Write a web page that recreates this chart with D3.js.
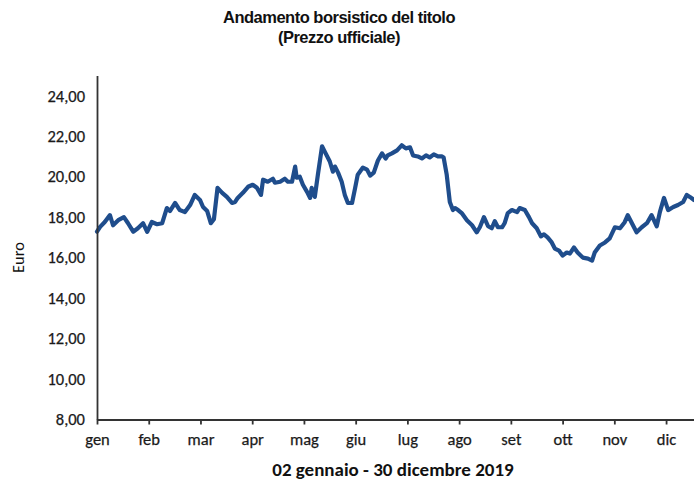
<!DOCTYPE html>
<html>
<head>
<meta charset="utf-8">
<script src="https://cdn.jsdelivr.net/npm/d3@7/dist/d3.min.js"></script>
<style>
  body { margin: 0; background: #fff; }
  svg { display: block; }
  .tick text { font-family: Carlito, "Liberation Sans Narrow", "DejaVu Sans Condensed", sans-serif; font-size: 16.5px; fill: #1a1a1a; stroke: #1a1a1a; stroke-width: 0.25px; }
  .title { font-family: "Liberation Sans", Arial, sans-serif; font-weight: bold; font-size: 16.5px; letter-spacing: -0.5px; fill: #111; }
  .axis-label { font-family: Carlito, "Liberation Sans Narrow", "DejaVu Sans Condensed", sans-serif; font-size: 16.5px; fill: #111; }
</style>
</head>
<body>
<svg id="chart" width="694" height="484"></svg>
<script>
var months = ["gen", "feb", "mar", "apr", "mag", "giu", "lug", "ago", "set", "ott", "nov", "dic"];
var yTicks = [8, 10, 12, 14, 16, 18, 20, 22, 24];

// position along the year in month units (0 = 2 gennaio, 11.54 = 30 dicembre)
var monthPos = [
    0.00, 0.06, 0.15, 0.25, 0.31, 0.41, 0.52, 0.60, 0.70, 0.79, 0.89, 0.97,
    1.06, 1.16, 1.26, 1.29, 1.35, 1.41, 1.51, 1.60, 1.70, 1.80, 1.89, 1.99,
    2.05, 2.13, 2.20, 2.26, 2.33, 2.42, 2.51, 2.61, 2.67, 2.72, 2.82, 2.92,
    3.01, 3.09, 3.17, 3.21, 3.30, 3.40, 3.44, 3.54, 3.63, 3.69, 3.77, 3.83,
    3.86, 3.92, 3.98, 4.06, 4.12, 4.15, 4.21, 4.27, 4.35, 4.41, 4.50, 4.56,
    4.60, 4.66, 4.73, 4.79, 4.85, 4.93, 4.99, 5.04, 5.14, 5.22, 5.28, 5.35,
    5.43, 5.51, 5.58, 5.62, 5.70, 5.80, 5.89, 5.97, 6.05, 6.11, 6.20, 6.28,
    6.36, 6.43, 6.51, 6.59, 6.67, 6.70, 6.76, 6.82, 6.88, 6.92, 6.98, 7.05,
    7.15, 7.25, 7.34, 7.40, 7.48, 7.56, 7.63, 7.69, 7.75, 7.83, 7.88, 7.94,
    8.02, 8.12, 8.17, 8.27, 8.35, 8.41, 8.50, 8.58, 8.64, 8.71, 8.79, 8.85,
    8.93, 9.00, 9.08, 9.14, 9.22, 9.29, 9.39, 9.49, 9.57, 9.62, 9.72, 9.82,
    9.91, 10.01, 10.11, 10.20, 10.26, 10.34, 10.43, 10.53, 10.63, 10.72, 10.82, 10.88,
    10.96, 11.04, 11.14, 11.23, 11.33, 11.40, 11.46, 11.54
];

// prezzo ufficiale, euro
var prices = [
    17.28, 17.52, 17.76, 18.10, 17.60, 17.85, 18.00, 17.70, 17.28, 17.45, 17.70, 17.27,
    17.76, 17.65, 17.70, 17.95, 18.45, 18.30, 18.70, 18.35, 18.25, 18.60, 19.10, 18.85,
    18.50, 18.30, 17.70, 17.90, 19.45, 19.20, 19.00, 18.70, 18.75, 18.95, 19.20, 19.50,
    19.60, 19.45, 19.10, 19.85, 19.75, 19.90, 19.70, 19.75, 19.90, 19.75, 19.75, 20.50,
    19.95, 20.00, 19.60, 19.25, 18.95, 19.45, 19.00, 20.10, 21.50, 21.20, 20.75, 20.25,
    20.50, 20.20, 19.75, 19.10, 18.70, 18.70, 19.45, 20.10, 20.45, 20.35, 20.05, 20.20,
    20.80, 21.15, 20.90, 21.05, 21.15, 21.30, 21.55, 21.40, 21.45, 21.05, 21.00, 20.90,
    21.05, 20.95, 21.10, 21.00, 21.00, 20.95, 20.10, 18.75, 18.35, 18.45, 18.35, 18.20,
    17.85, 17.60, 17.25, 17.50, 18.00, 17.55, 17.45, 17.80, 17.50, 17.50, 17.70, 18.20,
    18.35, 18.25, 18.45, 18.35, 18.00, 17.70, 17.45, 17.05, 17.15, 17.00, 16.75, 16.45,
    16.35, 16.10, 16.25, 16.20, 16.50, 16.25, 16.00, 15.95, 15.85, 16.25, 16.60, 16.75,
    16.95, 17.50, 17.45, 17.75, 18.10, 17.70, 17.25, 17.50, 17.70, 18.10, 17.55, 18.25,
    18.95, 18.35, 18.50, 18.60, 18.75, 19.10, 19.00, 18.85
];

var svg = d3.select('#chart');
var plotLeft = 97, plotRight = 694, plotTop = 75.5, plotBottom = 419.5;

var x = d3.scaleLinear()
    .domain([0, monthPos[monthPos.length - 1]])
    .range([plotLeft, plotRight]);

var y = d3.scaleLinear()
    .domain([8, 25])
    .range([plotBottom, plotTop]);

var comma = function(d) { return d3.format('.2f')(d).replace('.', ','); };

// title
svg.append('text').attr('class', 'title')
    .attr('x', 339).attr('y', 23).attr('text-anchor', 'middle')
    .text('Andamento borsistico del titolo');
svg.append('text').attr('class', 'title')
    .attr('x', 339).attr('y', 43).attr('text-anchor', 'middle')
    .text('(Prezzo ufficiale)');

// line first, axes drawn on top
var line = d3.line()
    .x(function(d, i) { return x(monthPos[i]); })
    .y(function(d) { return y(d); });

svg.append('path')
    .datum(prices)
    .attr('d', line)
    .attr('fill', 'none')
    .attr('stroke', '#1f4d8c')
    .attr('stroke-width', 4.2)
    .attr('stroke-linejoin', 'round')
    .attr('stroke-linecap', 'round');

var yAxis = svg.append('g')
    .attr('transform', 'translate(' + plotLeft + ',0)')
    .call(d3.axisLeft(y).tickValues(yTicks).tickSize(0).tickPadding(12).tickFormat(comma));
yAxis.select('.domain').attr('stroke', '#333').attr('stroke-width', 1.8);

var xAxis = svg.append('g')
    .attr('transform', 'translate(0,' + plotBottom + ')')
    .call(d3.axisBottom(x).tickValues(d3.range(12)).tickSizeInner(5).tickSizeOuter(0)
        .tickPadding(9).tickFormat(function(d) { return months[d]; }));
xAxis.select('.domain').attr('stroke', '#333').attr('stroke-width', 1.8);
xAxis.selectAll('.tick line').attr('stroke', '#333').attr('stroke-width', 1.8);

svg.append('text').attr('class', 'axis-label')
    .attr('transform', 'translate(24,' + y(16) + ') rotate(-90)')
    .attr('text-anchor', 'middle')
    .text('Euro');

svg.append('text').attr('class', 'axis-label')
    .attr('x', 393).attr('y', 476).attr('text-anchor', 'middle')
    .style('font-weight', 'bold')
    .style('font-size', '19px')
    .text('02 gennaio - 30 dicembre 2019');
</script>
</body>
</html>
